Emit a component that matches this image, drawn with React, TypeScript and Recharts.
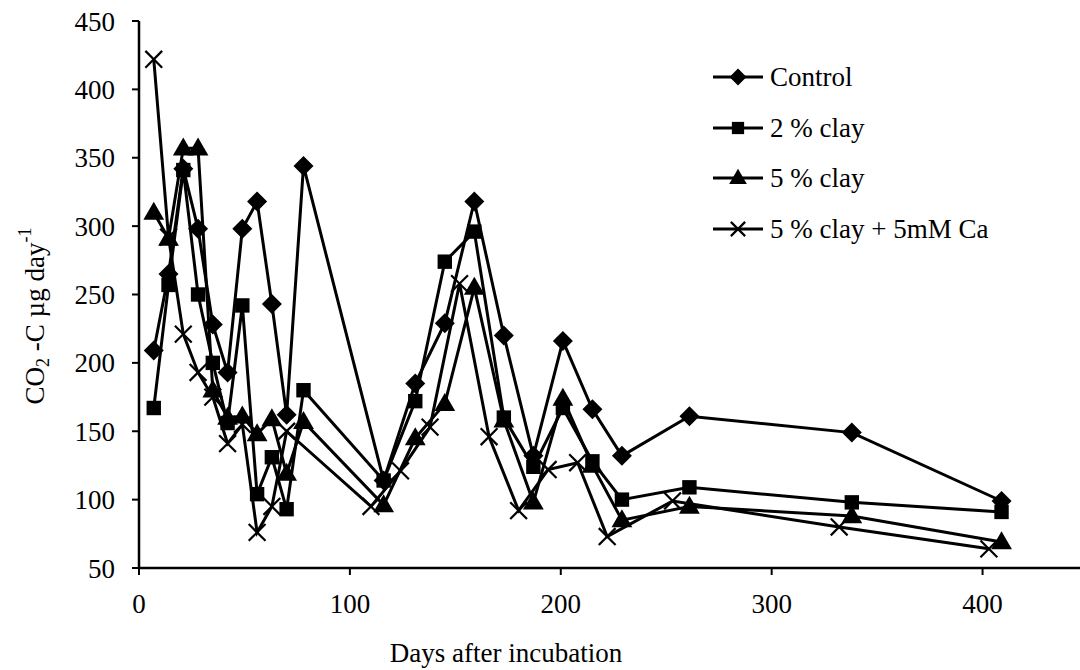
import React from "react";
import { LineChart, Line, XAxis, YAxis, Label } from "recharts";

// Incubation days and CO2-C release (µg day-1) per treatment
const controlDays = [7, 14, 21, 28, 35, 42, 49, 56, 63, 70, 78, 116, 131, 145, 159, 173, 187, 201, 215, 229, 261, 338, 409];
const controlValues = [209, 265, 342, 298, 228, 193, 298, 318, 243, 162, 344, 114, 185, 229, 318, 220, 132, 216, 166, 132, 161, 149, 99];

const clay2Days = [7, 14, 21, 28, 35, 42, 49, 56, 63, 70, 78, 116, 131, 145, 159, 173, 187, 201, 215, 229, 261, 338, 409];
const clay2Values = [167, 257, 341, 250, 200, 156, 242, 104, 131, 93, 180, 114, 172, 274, 296, 160, 124, 167, 128, 100, 109, 98, 91];

const clay5Days = [7, 14, 21, 28, 35, 42, 49, 56, 63, 70, 78, 116, 131, 145, 159, 173, 187, 201, 215, 229, 261, 338, 409];
const clay5Values = [310, 291, 357, 357, 180, 160, 161, 148, 159, 119, 157, 96, 145, 170, 255, 158, 98, 174, 125, 85, 95, 88, 69];

const clayCaDays = [7, 14, 21, 28, 35, 42, 49, 56, 63, 70, 110, 124, 138, 152, 166, 180, 194, 208, 222, 253, 332, 403];
const clayCaValues = [422, 292, 221, 193, 175, 141, 155, 76, 95, 150, 95, 121, 153, 258, 146, 92, 122, 127, 73, 99, 80, 64];

const xTicks = [0, 100, 200, 300, 400];
const yTicks = [50, 100, 150, 200, 250, 300, 350, 400, 450];

const seriesNames = ["Control", "2 % clay", "5 % clay", "5 % clay + 5mM Ca"];

const zip = (days: number[], values: number[]) =>
  days.map((day, i) => ({ day, value: values[i] }));

const FONT = '"Liberation Serif", "Times New Roman", serif';
const FS = 27;

type MarkerKind = "diamond" | "square" | "triangle" | "cross";

function Marker({ kind, cx, cy, s }: { kind: MarkerKind; cx: number; cy: number; s: number }) {
  if (kind === "diamond") {
    const r = s / 2;
    return <polygon points={`${cx},${cy - r} ${cx + r},${cy} ${cx},${cy + r} ${cx - r},${cy}`} fill="#000" />;
  }
  if (kind === "square") {
    const h = s * 0.36;
    return <rect x={cx - h} y={cy - h} width={2 * h} height={2 * h} fill="#000" />;
  }
  if (kind === "triangle") {
    const w = s * 0.52;
    const h = s * 0.9;
    return (
      <polygon
        points={`${cx},${cy - h * 0.6} ${cx + w},${cy + h * 0.4} ${cx - w},${cy + h * 0.4}`}
        fill="#000"
      />
    );
  }
  const r = s * 0.42;
  return (
    <g stroke="#000" strokeWidth={2.2}>
      <line x1={cx - r} y1={cy - r} x2={cx + r} y2={cy + r} />
      <line x1={cx - r} y1={cy + r} x2={cx + r} y2={cy - r} />
    </g>
  );
}

const kinds: MarkerKind[] = ["diamond", "square", "triangle", "cross"];

const makeDot = (kind: MarkerKind) => (props: any) => {
  const { cx, cy, index } = props;
  if (cx == null || cy == null) return <g key={`e-${kind}-${index}`} />;
  return (
    <g key={`${kind}-${index}`}>
      <Marker kind={kind} cx={cx} cy={cy} s={20} />
    </g>
  );
};

function LegendBox() {
  return (
    <div
      style={{
        position: "absolute",
        left: 712,
        top: 52,
        fontFamily: FONT,
        fontSize: FS,
        color: "#000",
      }}
    >
      {seriesNames.map((name, i) => (
        <div key={name} style={{ display: "flex", alignItems: "center", height: 50.5 }}>
          <svg width={58} height={30} style={{ display: "block" }}>
            <line x1={1} y1={15} x2={51} y2={15} stroke="#000" strokeWidth={3} />
            <Marker kind={kinds[i]} cx={26} cy={15} s={17} />
          </svg>
          <span style={{ whiteSpace: "nowrap", lineHeight: "30px" }}>{name}</span>
        </div>
      ))}
    </div>
  );
}

function YTitle() {
  const cx = 35;
  const cy = 316;
  return (
    <text
      x={cx}
      y={cy}
      transform={`rotate(-90, ${cx}, ${cy})`}
      textAnchor="middle"
      dominantBaseline="central"
      fontFamily={FONT}
      fontSize={FS}
      fill="#000"
    >
      CO
      <tspan fontSize={18} dy={8}>2</tspan>
      <tspan dy={-8}> -C µg day</tspan>
      <tspan fontSize={18} dy={-10}>-1</tspan>
    </text>
  );
}

function XTitle() {
  return (
    <text x={506} y={662} textAnchor="middle" fontFamily={FONT} fontSize={FS} fill="#000">
      Days after incubation
    </text>
  );
}

export default function App() {
  const series = [
    zip(controlDays, controlValues),
    zip(clay2Days, clay2Values),
    zip(clay5Days, clay5Values),
    zip(clayCaDays, clayCaValues),
  ];
  return (
    <div
      style={{
        position: "absolute",
        left: 0,
        top: 0,
        width: 1080,
        height: 670,
        overflow: "hidden",
        background: "#fff",
      }}
    >
      <LineChart width={1100} height={670} margin={{ top: 21, right: 12, bottom: 42, left: 0 }}>
        <XAxis
          type="number"
          dataKey="day"
          domain={[0, 450]}
          ticks={xTicks}
          allowDataOverflow
          height={60}
          tickSize={7}
          tickMargin={19}
          axisLine={{ stroke: "#000", strokeWidth: 2.5 }}
          tickLine={{ stroke: "#000", strokeWidth: 2 }}
          tick={{ fill: "#000", fontFamily: FONT, fontSize: FS }}
        >
          <Label content={<XTitle />} />
        </XAxis>
        <YAxis
          type="number"
          domain={[50, 450]}
          ticks={yTicks}
          allowDataOverflow
          width={139}
          tickSize={7}
          tickMargin={17}
          axisLine={{ stroke: "#000", strokeWidth: 2.5 }}
          tickLine={{ stroke: "#000", strokeWidth: 2 }}
          tick={{ fill: "#000", fontFamily: FONT, fontSize: FS }}
        >
          <Label content={<YTitle />} />
        </YAxis>
        {series.map((data, i) => (
          <Line
            key={seriesNames[i]}
            name={seriesNames[i]}
            data={data}
            dataKey="value"
            stroke="#000"
            strokeWidth={3}
            dot={makeDot(kinds[i])}
            activeDot={false}
            isAnimationActive={false}
          />
        ))}
      </LineChart>
      <LegendBox />
    </div>
  );
}
